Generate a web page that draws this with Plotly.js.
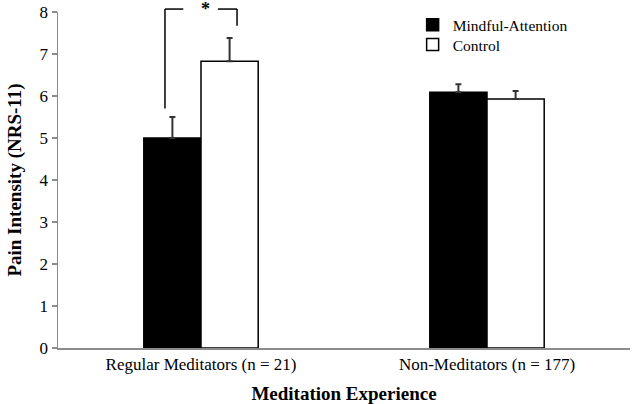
<!DOCTYPE html>
<html>
<head>
<meta charset="utf-8">
<script src="https://cdn.plot.ly/plotly-3.0.1.min.js"></script>
<style>html,body{margin:0;padding:0;background:#fff;}#chart{width:637px;height:404px;}</style>
</head>
<body>
<div id="chart"></div>
<script>
const categories = ["Regular Meditators (n = 21)", "Non-Meditators (n = 177)"];
const seriesNames = ["Mindful-Attention", "Control"];
const mindfulValues = [5.0, 6.09];
const mindfulErrors = [0.5, 0.19];
const controlValues = [6.83, 5.93];
const controlErrors = [0.55, 0.19];
const yTicks = [0, 1, 2, 3, 4, 5, 6, 7, 8];
const yMax = 8;
// significance bracket (data units)
const bracketTop = 8.07;
const bracketLeftBottom = 5.7;
const bracketRightBottom = 7.67;
const sigLabel = "*";

const FONT = "Times New Roman, Liberation Serif, Tinos, serif";
const zeros = a => a.map(() => 0);

const traces = [
  {
    type: 'bar', name: seriesNames[0], x: categories, y: mindfulValues, legend: 'legend',
    marker: {color: '#000000', line: {color: '#000000', width: 1.5}},
    error_y: {type: 'data', symmetric: false, array: mindfulErrors, arrayminus: zeros(mindfulErrors),
              color: '#333333', thickness: 2, width: 3}
  },
  {
    type: 'bar', name: seriesNames[1], x: categories, y: controlValues, legend: 'legend2',
    marker: {color: '#ffffff', line: {color: '#000000', width: 1.5}},
    error_y: {type: 'data', symmetric: false, array: controlErrors, arrayminus: zeros(controlErrors),
              color: '#333333', thickness: 2, width: 3}
  }
];

const py = v => v / yMax;
const lineStyle = {color: '#000000', width: 1.5};
const shapes = [
  {type: 'line', xref: 'x', yref: 'paper', x0: -0.126, x1: -0.126, y0: py(bracketLeftBottom), y1: py(bracketTop), line: lineStyle},
  {type: 'line', xref: 'x', yref: 'paper', x0: -0.126, x1: -0.062, y0: py(bracketTop), y1: py(bracketTop), line: lineStyle},
  {type: 'line', xref: 'x', yref: 'paper', x0: 0.059, x1: 0.126, y0: py(bracketTop), y1: py(bracketTop), line: lineStyle},
  {type: 'line', xref: 'x', yref: 'paper', x0: 0.126, x1: 0.126, y0: py(bracketTop), y1: py(bracketRightBottom), line: lineStyle}
];

const legendBase = {x: 0.62, xanchor: 'left', yanchor: 'middle', font: {family: FONT, size: 15.5, color: '#000'},
                    bgcolor: 'rgba(0,0,0,0)', itemwidth: 30};

const layout = {
  width: 637, height: 404,
  margin: {l: 58, r: 7, t: 12, b: 56},
  paper_bgcolor: '#ffffff', plot_bgcolor: '#ffffff',
  font: {family: FONT, color: '#000000', size: 17},
  barmode: 'group', bargap: 0.6, bargroupgap: 0,
  showlegend: true,
  legend: Object.assign({}, legendBase, {y: 0.961}),
  legend2: Object.assign({}, legendBase, {y: 0.902}),
  xaxis: {
    type: 'category', showline: true, linecolor: '#8c8c8c', linewidth: 1.5,
    ticks: '', showgrid: false, zeroline: false,
    tickfont: {family: FONT, size: 17, color: '#000'},
    title: {text: '<b>Meditation Experience</b>', font: {family: FONT, size: 19}, standoff: 14}
  },
  yaxis: {
    range: [0, yMax], tickvals: yTicks, ticktext: yTicks.map(String),
    showline: true, linecolor: '#8c8c8c', linewidth: 1.5,
    ticks: 'outside', ticklen: 5, tickcolor: '#8c8c8c', tickwidth: 1.5,
    showgrid: false, zeroline: false,
    tickfont: {family: FONT, size: 17, color: '#000'},
    title: {text: '<b>Pain Intensity (NRS-11)</b>', font: {family: FONT, size: 19}, standoff: 13}
  },
  shapes: shapes,
  annotations: [
    {xref: 'x', yref: 'paper', x: 0.014, y: py(bracketTop), text: '<b>' + sigLabel + '</b>', showarrow: false,
     xanchor: 'center', yanchor: 'middle', font: {family: FONT, size: 18}}
  ]
};

Plotly.newPlot('chart', traces, layout, {displayModeBar: false, staticPlot: true});
</script>
</body>
</html>
